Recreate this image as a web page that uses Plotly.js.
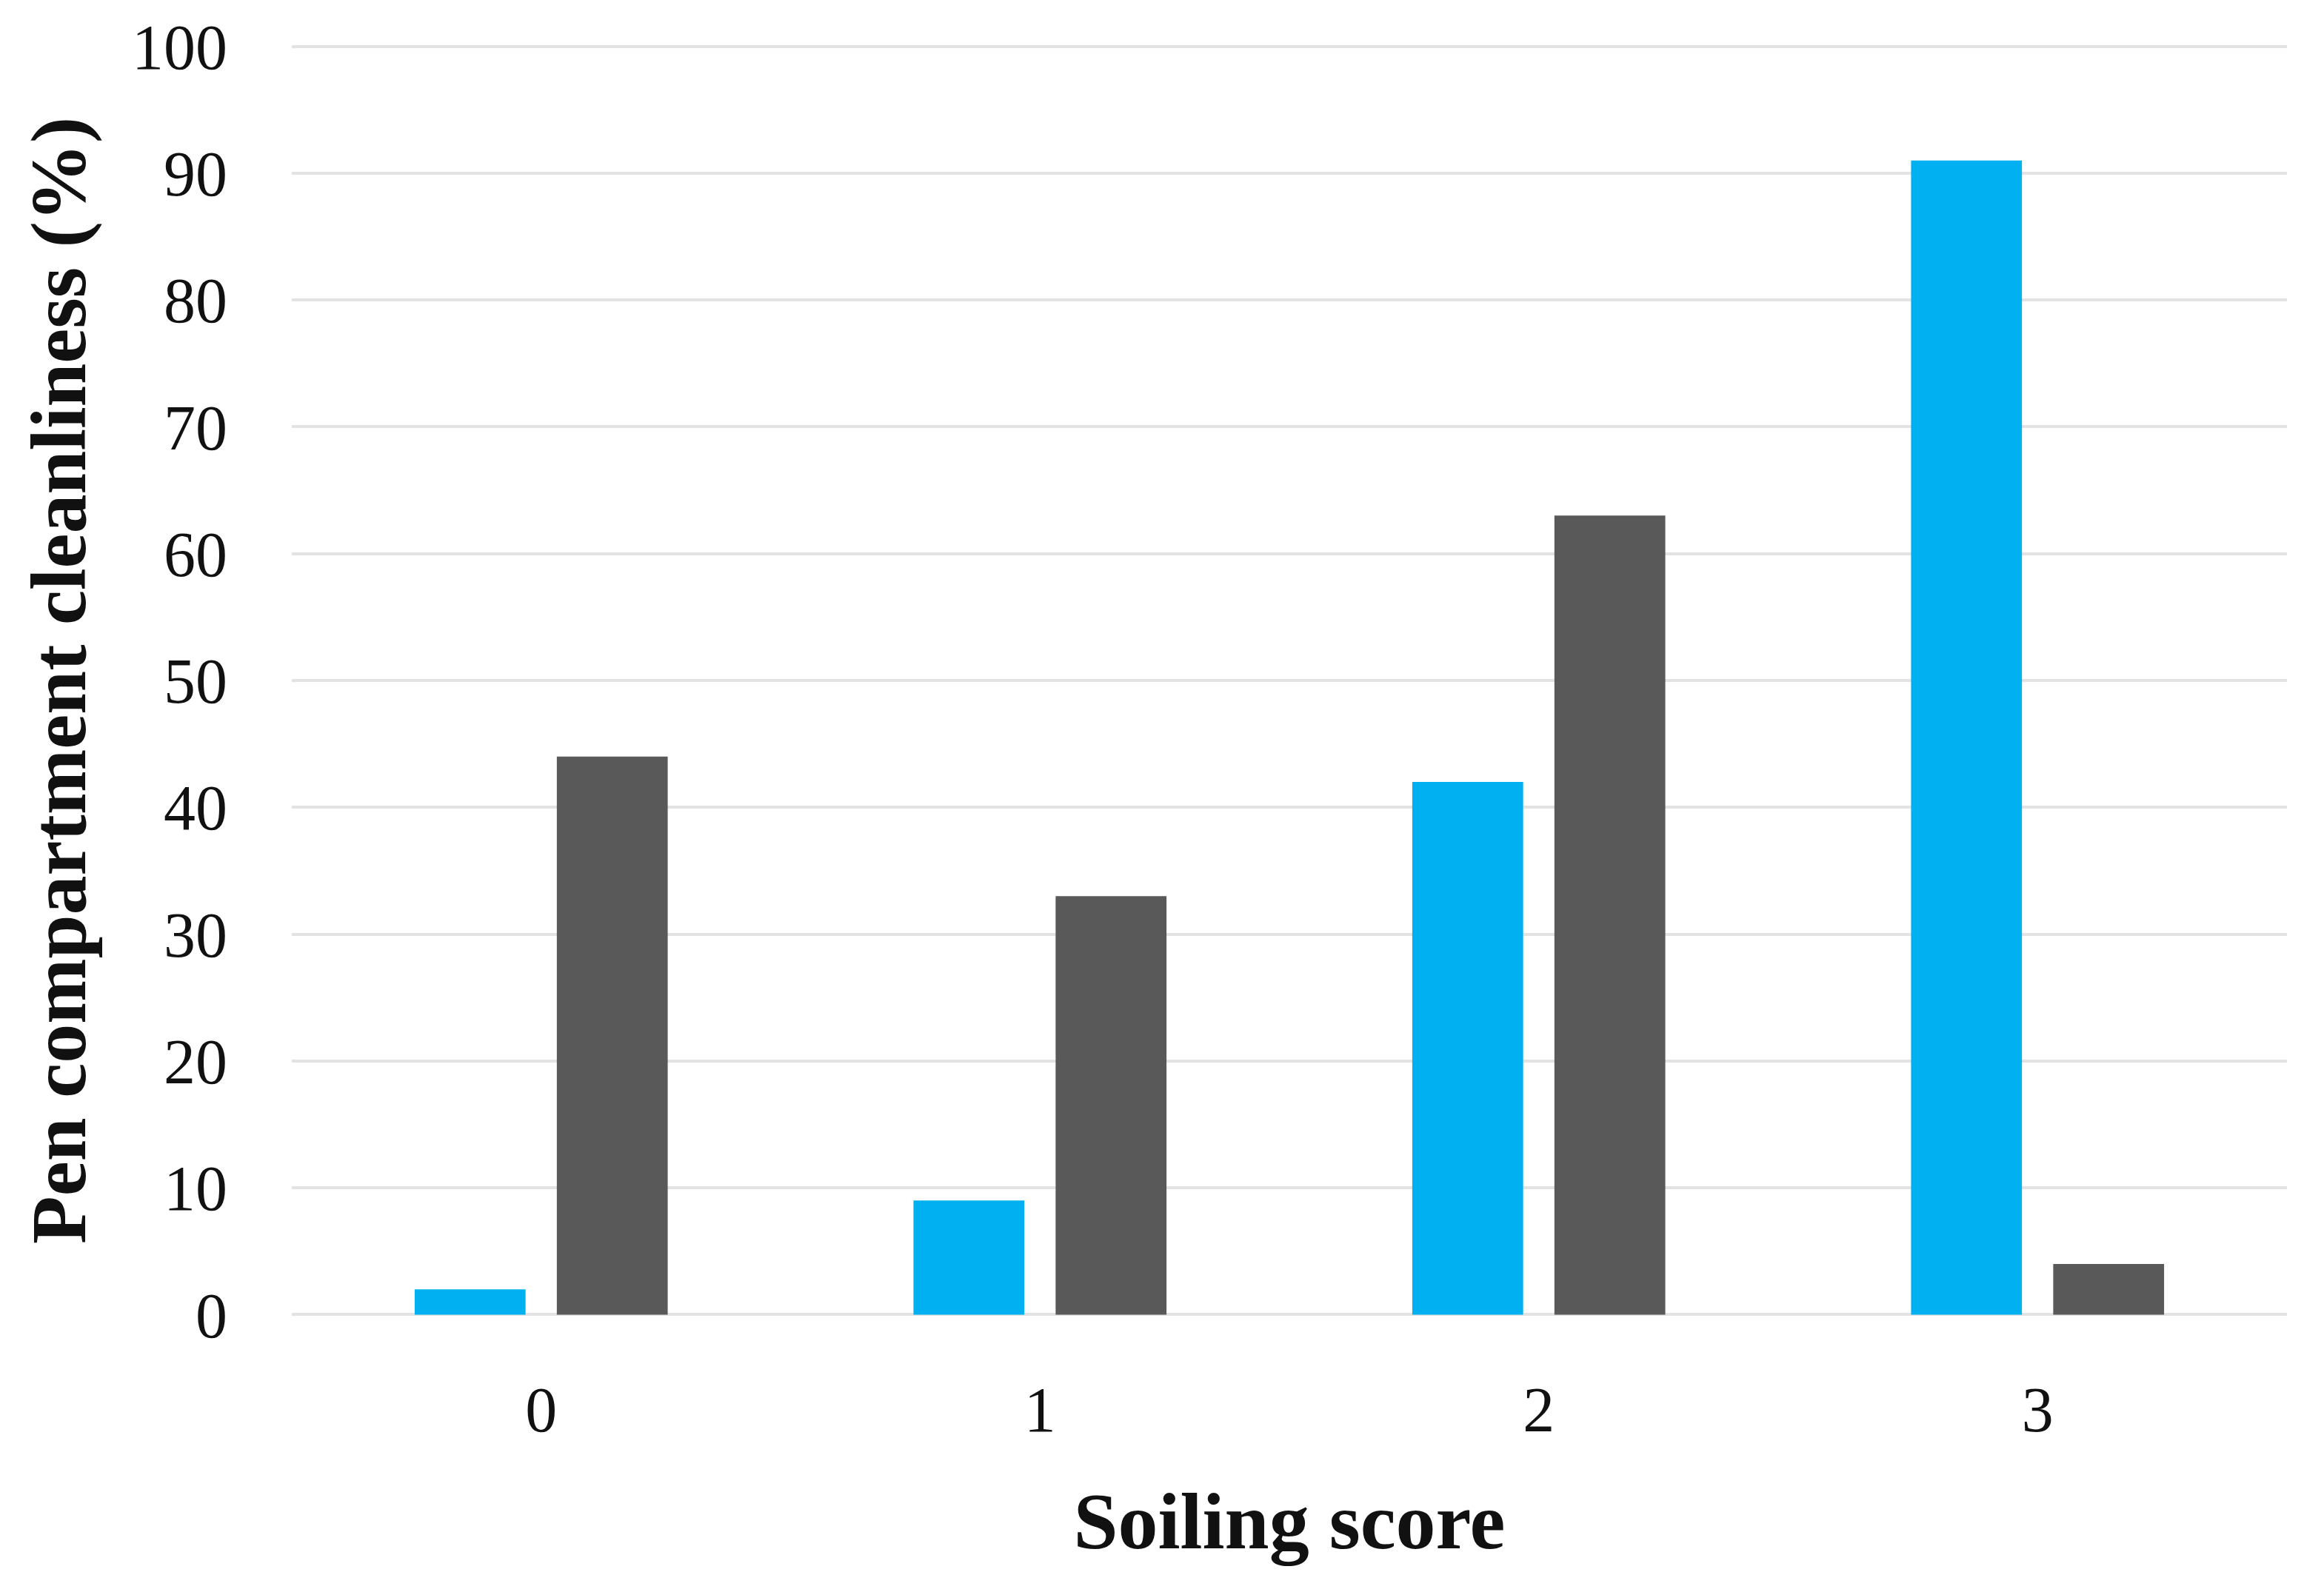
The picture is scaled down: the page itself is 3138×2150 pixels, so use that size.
<!DOCTYPE html>
<html>
<head>
<meta charset="utf-8">
<script src="https://cdn.plot.ly/plotly-3.0.1.min.js"></script>
<style>html,body{margin:0;padding:0;background:#fff;}#chart{width:3138px;height:2150px;}</style>
</head>
<body>
<div id="chart"></div>
<script>
const categories = ["0", "1", "2", "3"];
const seriesBlue = [2, 9, 42, 91];
const seriesGray = [44, 33, 63, 4];
const yTickVals = [0, 10, 20, 30, 40, 50, 60, 70, 80, 90, 100];

const serif = "Liberation Serif, Times New Roman, serif";

const traces = [
  {type: "bar", x: categories, y: seriesBlue, name: "Series 1",
   marker: {color: "#00B0F0", line: {width: 0}}},
  {type: "bar", x: categories, y: seriesGray, name: "Series 2",
   marker: {color: "#595959", line: {width: 0}}}
];

const layout = {
  width: 3138, height: 2150,
  paper_bgcolor: "#ffffff", plot_bgcolor: "#ffffff",
  margin: {l: 394, r: 50, t: 60, b: 372},
  showlegend: false,
  barmode: "group",
  bargap: 0.43,
  bargroupgap: 0.22,
  font: {family: serif, color: "#000"},
  xaxis: {
    type: "category",
    range: [-0.5, 3.5],
    showgrid: false, zeroline: false, showline: false,
    ticks: "", ticklabelstandoff: 68,
    tickfont: {family: serif, size: 86, color: "#111"},
    title: {text: "<b>Soiling score</b>", font: {family: serif, size: 108, color: "#111"}, standoff: 64},
    automargin: false
  },
  yaxis: {
    range: [-0.15, 100.15],
    tickvals: yTickVals,
    showgrid: true, gridcolor: "#e3e3e3", gridwidth: 4,
    zeroline: false, showline: false,
    ticks: "", ticklabelstandoff: 86,
    tickfont: {family: serif, size: 86, color: "#111"},
    title: {text: "<b>Pen compartment cleanliness (%)</b>", font: {family: serif, size: 106, color: "#111"}, standoff: 26},
    automargin: false
  }
};

Plotly.newPlot("chart", traces, layout, {displayModeBar: false, staticPlot: true});
</script>
</body>
</html>
